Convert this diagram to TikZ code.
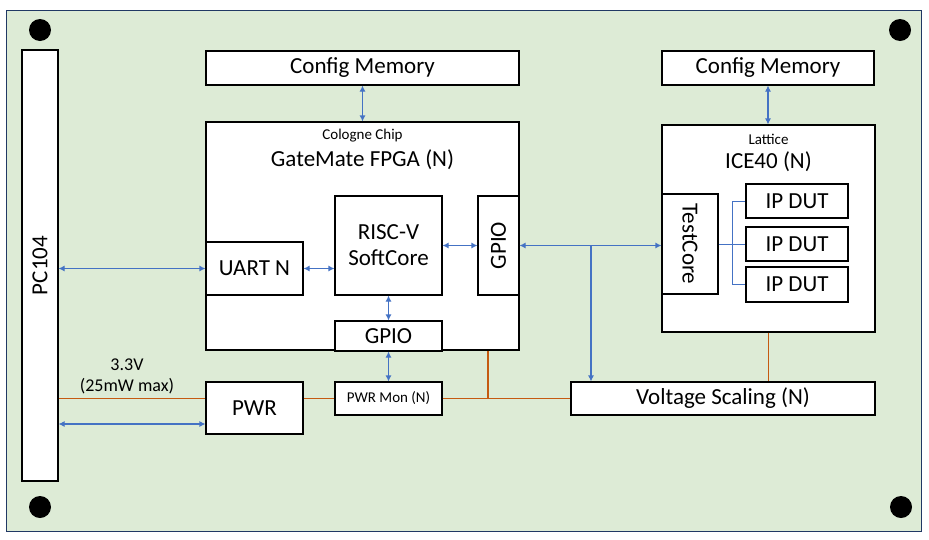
\documentclass[tikz,border=0pt]{standalone}
\usepackage{fontspec}
\usepackage{graphicx}
\setmainfont{Carlito}
\usetikzlibrary{arrows.meta}
\definecolor{boardgreen}{RGB}{221,235,214}
\definecolor{boardedge}{RGB}{32,56,100}
\definecolor{linkblue}{RGB}{68,114,196}
\definecolor{pwrorange}{RGB}{197,90,17}
\tikzset{
  box/.style={draw=black, fill=white, line width=1.1pt, inner sep=0pt, font=\fontsize{23}{26}\selectfont},
  smalltext/.style={font=\fontsize{15}{17}\selectfont, inner sep=0pt},
  bigtext/.style={font=\fontsize{23}{26}\selectfont, inner sep=0pt},
  link/.style={draw=linkblue, line width=1.1pt, {Latex[length=6pt,width=6pt]}-{Latex[length=6pt,width=6pt]}},
  linkto/.style={draw=linkblue, line width=1.1pt, -{Latex[length=6pt,width=6pt]}},
  bus/.style={draw=linkblue, line width=1pt},
  power/.style={draw=pwrorange, line width=1.1pt},
  hole/.style={fill=black}
}
\begin{document}
\begin{tikzpicture}[x=1pt,y=-1pt]
\useasboundingbox (0,0) rectangle (929,539);
\fill[white] (0,0) rectangle (929,539);
\draw[fill=boardgreen, draw=boardedge, line width=1pt] (6,10) rectangle (921,531);
\fill[hole] (40,30) circle (11);
\fill[hole] (900,30) circle (11);
\fill[hole] (40,507) circle (11);
\fill[hole] (901,507) circle (11);

% boxes
\node[box, minimum width=36pt, minimum height=431pt] (pc) at (40,265.5) {\rotatebox{90}{PC104}};
\node[box, minimum width=313pt, minimum height=34pt] (cm1) at (362.5,68) {Config Memory};
\node[box, minimum width=212pt, minimum height=34pt] (cm2) at (768,68) {Config Memory};
\node[box, minimum width=313pt, minimum height=228pt] (fpga) at (362.5,236) {};
\node[smalltext] (fpgavendor) at (362.5,136) {Cologne Chip};
\node[bigtext] (fpganame) at (362.5,160) {GateMate FPGA (N)};
\node[box, minimum width=107pt, minimum height=99pt, align=center] (risc) at (388.5,245.5) {RISC-V\\SoftCore};
\node[box, minimum width=41pt, minimum height=99pt] (gpioa) at (498.5,245.5) {\rotatebox{90}{GPIO}};
\node[box, minimum width=97pt, minimum height=53pt] (uart) at (254.5,268.5) {UART N};
\node[box, minimum width=107pt, minimum height=30pt] (gpiob) at (388.5,336) {GPIO};
\node[box, minimum width=97pt, minimum height=52pt] (pwr) at (254.5,408) {PWR};
\node[box, minimum width=107pt, minimum height=33pt, font=\fontsize{15}{17}\selectfont] (pwrmon) at (388.5,398.5) {PWR Mon (N)};
\node[box, minimum width=304pt, minimum height=33pt] (vs) at (723,398.5) {Voltage Scaling (N)};
\node[box, minimum width=213pt, minimum height=207pt] (ice) at (768.5,228.5) {};
\node[smalltext] (icevendor) at (768.5,139) {Lattice};
\node[bigtext] (icename) at (768.5,162) {ICE40 (N)};
\node[box, minimum width=56pt, minimum height=100pt] (tc) at (690,244) {\rotatebox{-90}{TestCore}};
\node[box, minimum width=102pt, minimum height=34pt] (ip1) at (797,201) {IP DUT};
\node[box, minimum width=102pt, minimum height=34pt] (ip2) at (797,244) {IP DUT};
\node[box, minimum width=102pt, minimum height=35pt] (ip3) at (797,284.5) {IP DUT};

\node[align=center, font=\fontsize{18}{21}\selectfont, inner sep=0pt] (pwrlabel) at (127,376) {3.3V\\(25mW max)};

% blue links
\draw[link] (cm1.south) -- (fpga.north);
\draw[link] (cm2.south) -- (cm2.south |- ice.north);
\draw[link] (pc.east |- uart.west) -- (uart.west);
\draw[link] (uart.east) -- (uart.east -| risc.west);
\draw[link] (risc.east) -- (gpioa.west);
\draw[link] (risc.south) -- (gpiob.north);
\draw[link] (gpiob.south) -- (pwrmon.north);
\draw[link] (gpioa.east) -- (gpioa.east -| tc.west);
\coordinate (branch) at (591,245.5);
\draw[linkto] (branch) -- (branch |- vs.north);
\draw[link] (pc.east |- 0,424) -- (pwr.west |- 0,424);

% TestCore bus
\coordinate (busx) at (732,244);
\draw[bus] (tc.east) -- (busx);
\draw[bus] (busx |- ip1.west) -- (busx |- ip3.west);
\draw[bus] (busx |- ip1.west) -- (ip1.west);
\draw[bus] (busx) -- (ip2.west);
\draw[bus] (busx |- ip3.west) -- (ip3.west);

% power lines
\coordinate (tap) at (488,398.5);
\draw[power] (pc.east |- 0,398.5) -- (pwr.west |- 0,398.5);
\draw[power] (pwr.east |- pwrmon.west) -- (pwrmon.west);
\draw[power] (pwrmon.east) -- (vs.west);
\draw[power] (tap |- fpga.south) -- (tap);
\draw[power] (ice.south) -- (ice.south |- vs.north);
\end{tikzpicture}
\end{document}
